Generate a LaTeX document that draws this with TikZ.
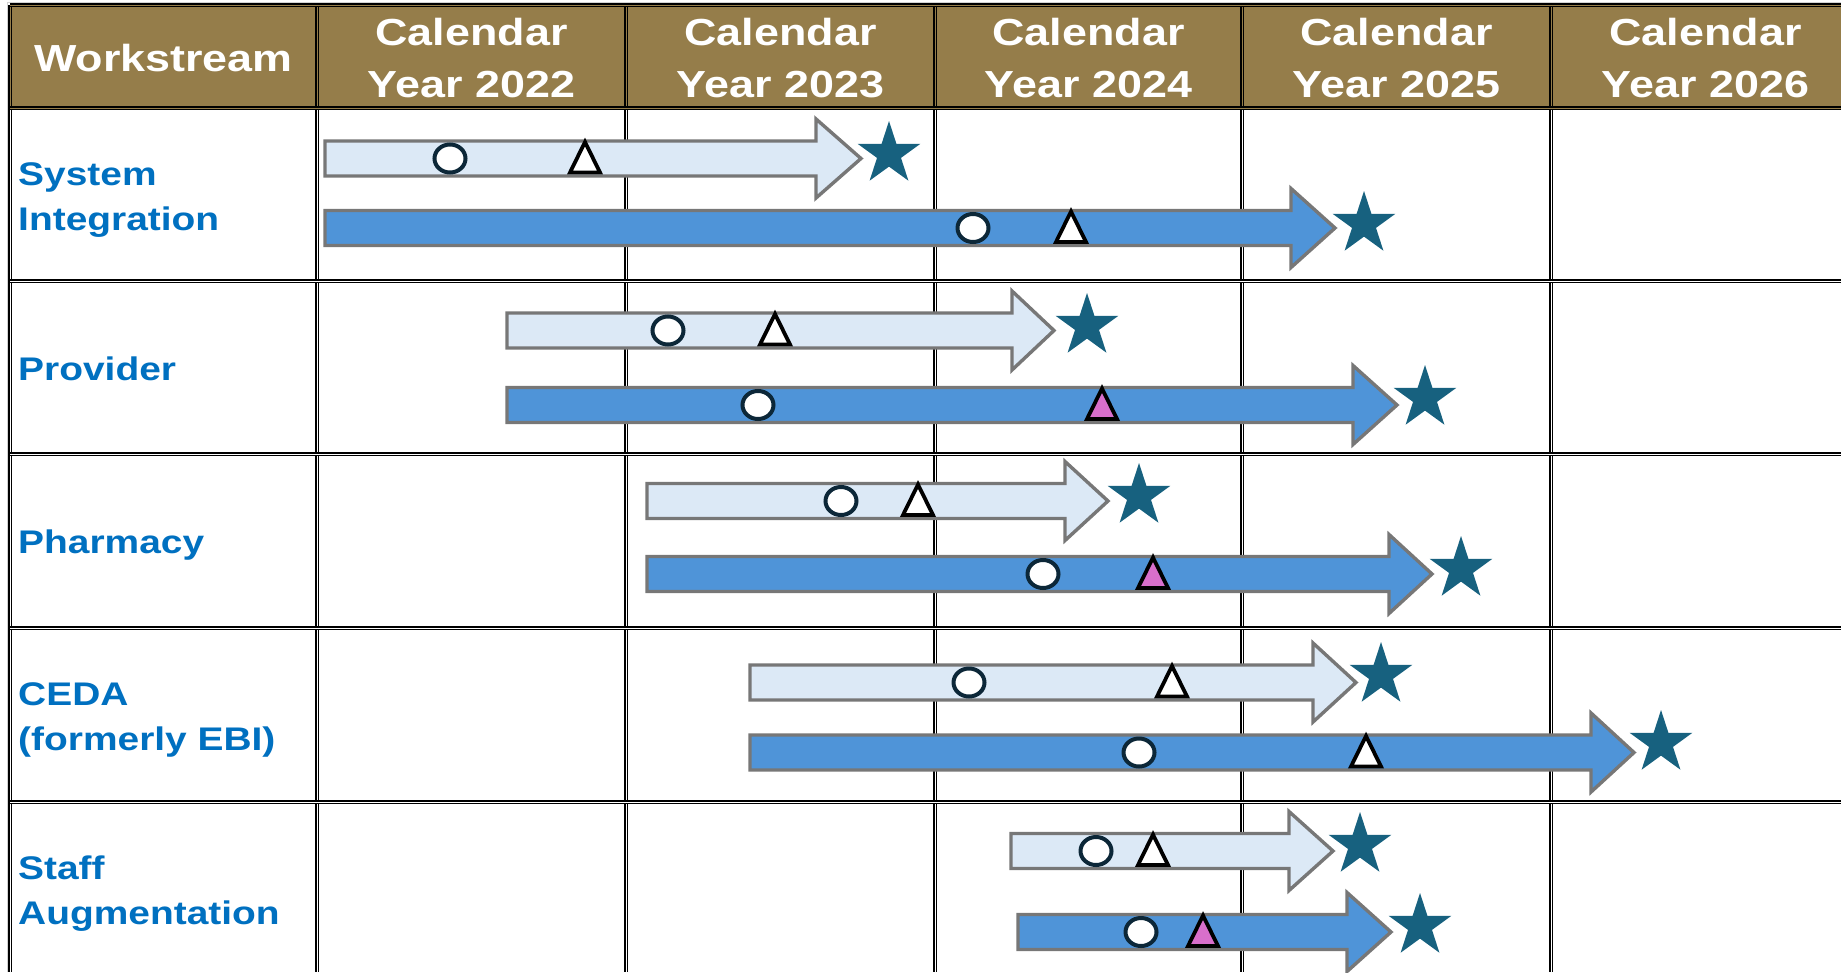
\documentclass[tikz,border=0pt]{standalone}
\usepackage{fontspec}
\setmainfont{Liberation Sans}[FakeStretch=1.19]
\usepackage{xcolor}
\usepackage{tikz}
\usetikzlibrary{shapes,positioning,calc}

\definecolor{hdrbrown}{HTML}{957D4A}
\definecolor{barlight}{HTML}{DCE9F6}
\definecolor{bardark}{HTML}{4F94D8}
\definecolor{barline}{HTML}{777777}
\definecolor{starblue}{HTML}{17617F}
\definecolor{ringnavy}{HTML}{0C2738}
\definecolor{labelblue}{HTML}{0070C0}
\definecolor{tripink}{HTML}{D86FCB}

% arrow: style, left, head base, tip, centre y
\newcommand{\ganttarrow}[5]{%
  \draw[#1] (#2,#5-17.5) -- (#3,#5-17.5) -- (#3,#5-39.5) -- (#4,#5)
    -- (#3,#5+39.5) -- (#3,#5+17.5) -- (#2,#5+17.5) -- cycle;}
\newcommand{\ganttring}[2]{\draw[ring] (#1,#2) ellipse [x radius=15.5, y radius=14];}
\newcommand{\gantttri}[3]{\draw[tri, fill=#3] (#1-15,#2+14) -- (#1,#2-16.5) -- (#1+15,#2+14) -- cycle;}

\begin{document}
\begin{tikzpicture}[x=1pt, y=-1pt,
    gridline/.style={line width=1.6pt, double=white, double distance=0.9pt},
    hdrline/.style={gridline, double=hdrbrown},
    hdrtext/.style={text=white, font=\fontsize{37.7}{52}\selectfont\bfseries, align=center, inner sep=0pt},
    rowlabel/.style={text=labelblue, font=\fontsize{32.7}{45}\selectfont\bfseries, align=left, anchor=west, inner sep=0pt},
    planbar/.style={fill=barlight, draw=barline, line width=3.4pt, line join=miter},
    actbar/.style={fill=bardark, draw=barline, line width=3.4pt, line join=miter},
    ring/.style={draw=ringnavy, fill=white, line width=4pt},
    tri/.style={draw=black, line width=3.8pt, line join=miter},
    goal/.style={star, star points=5, star point ratio=2.618, minimum size=66pt, inner sep=0pt, fill=starblue}]
    \useasboundingbox (0,0) rectangle (1841,972);

    % Grid
    \fill[hdrbrown] (10,5) rectangle (1841,108);
    \draw[gray!35, line width=1pt] (7.5,972) -- (7.5,2) -- (1841,2);
    \foreach \gx in {10,317,626,935,1242,1551} {
        \draw[hdrline] (\gx,5) -- (\gx,108);
        \draw[gridline] (\gx,108) -- (\gx,972);
    }
    \foreach \gy in {281,454,628,802}
        \draw[gridline] (10,\gy) -- (1841,\gy);
    \draw[hdrline] (10,5) -- (1841,5);
    \draw[hdrline] (10,108) -- (1841,108);

    % Header
    \node[hdrtext] (hdr-ws) at (163.5,58.5) {Workstream};
    \foreach \hx/\yr in {471.5/2022, 780.5/2023, 1088.5/2024, 1396.5/2025, 1705.5/2026}
        \node[hdrtext] (hdr-\yr) at (\hx,58.5) {Calendar\\Year \yr};

    % Workstreams
    \node[rowlabel] (lbl-sys) at (18,200) {System\\Integration};
    \node[rowlabel] (lbl-prov) at (18,368.5) {Provider};
    \node[rowlabel] (lbl-pharm) at (18,545) {Pharmacy};
    \node[rowlabel] (lbl-ceda) at (18,720) {CEDA\\(formerly EBI)};
    \node[rowlabel] (lbl-staff) at (18,894) {Staff\\Augmentation};

    % System Integration
    \ganttarrow{planbar}{325}{816}{861}{158.5}
    \ganttarrow{actbar}{325}{1291}{1335}{228}
    \ganttring{450}{158.5} \gantttri{585}{158.5}{white}
    \ganttring{973}{228} \gantttri{1071}{228}{white}
    \node[goal] (sys-plan) at (889,154) {};
    \node[goal] (sys-act) at (1364,224) {};

    % Provider
    \ganttarrow{planbar}{507}{1012}{1054}{330.5}
    \ganttarrow{actbar}{507}{1353}{1397}{405}
    \ganttring{668}{330.5} \gantttri{775}{330.5}{white}
    \ganttring{758}{405} \gantttri{1102}{405}{tripink}
    \node[goal] (prov-plan) at (1087,326) {};
    \node[goal] (prov-act) at (1425,398) {};

    % Pharmacy
    \ganttarrow{planbar}{647}{1065}{1108}{501}
    \ganttarrow{actbar}{647}{1389}{1432}{574}
    \ganttring{841}{501} \gantttri{918}{501}{white}
    \ganttring{1043}{574} \gantttri{1153}{574}{tripink}
    \node[goal] (pharm-plan) at (1139,496) {};
    \node[goal] (pharm-act) at (1461,569) {};

    % CEDA
    \ganttarrow{planbar}{750}{1313}{1356}{682.5}
    \ganttarrow{actbar}{750}{1591}{1634}{752.5}
    \ganttring{969}{682.5} \gantttri{1172}{682.5}{white}
    \ganttring{1139}{752.5} \gantttri{1366}{752.5}{white}
    \node[goal] (ceda-plan) at (1381,675) {};
    \node[goal] (ceda-act) at (1661,743) {};

    % Staff Augmentation
    \ganttarrow{planbar}{1011}{1289}{1333}{851}
    \ganttarrow{actbar}{1018}{1347}{1391}{932}
    \ganttring{1096}{851} \gantttri{1153}{851}{white}
    \ganttring{1141}{932} \gantttri{1203}{932}{tripink}
    \node[goal] (staff-plan) at (1360,845) {};
    \node[goal] (staff-act) at (1420,926) {};
\end{tikzpicture}
\end{document}
